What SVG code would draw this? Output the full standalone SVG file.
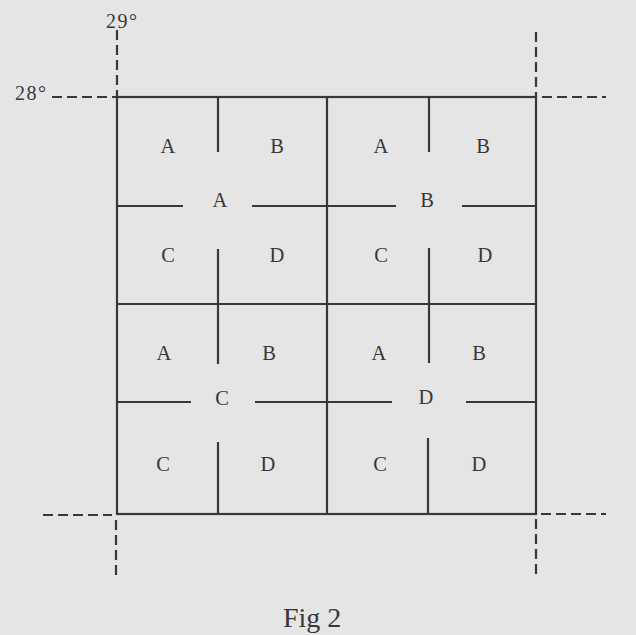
<svg xmlns="http://www.w3.org/2000/svg" width="636" height="635" viewBox="0 0 636 635">
<style>
.ln{stroke:#383838;stroke-width:2.2;fill:none;stroke-linecap:butt}
.ds{stroke:#383838;stroke-width:2.2;fill:none;stroke-dasharray:10 5}
.lb{font-family:"Liberation Serif",serif;font-size:20.5px;fill:#383838;text-anchor:middle}
.cap{font-family:"Liberation Serif",serif;font-size:20px;fill:#383838;letter-spacing:1.5px}
</style>
<rect width="636" height="635" fill="#e5e5e5"/>
<g id="connectors">
<rect class="ln" x="117" y="97" width="419" height="417"/>
<line class="ln" x1="327" y1="97" x2="327" y2="514"/>
<line class="ln" x1="117" y1="304" x2="536" y2="304"/>
<line class="ln" x1="218" y1="97" x2="218" y2="152"/>
<line class="ln" x1="429" y1="97" x2="429" y2="152"/>
<line class="ln" x1="117" y1="206" x2="183" y2="206"/>
<line class="ln" x1="252" y1="206" x2="396" y2="206"/>
<line class="ln" x1="462" y1="206" x2="536" y2="206"/>
<line class="ln" x1="218" y1="249" x2="218" y2="364"/>
<line class="ln" x1="429" y1="248" x2="429" y2="363"/>
<line class="ln" x1="117" y1="402" x2="191" y2="402"/>
<line class="ln" x1="255" y1="402" x2="392" y2="402"/>
<line class="ln" x1="466" y1="402" x2="536" y2="402"/>
<line class="ln" x1="218" y1="442" x2="218" y2="514"/>
<line class="ln" x1="428" y1="438" x2="428" y2="514"/>
<line class="ds" x1="117" y1="30" x2="117" y2="97"/>
<line class="ds" x1="52" y1="97" x2="117" y2="97"/>
<line class="ds" x1="536" y1="32" x2="536" y2="97"/>
<line class="ds" x1="542" y1="97" x2="606" y2="97"/>
<line class="ds" x1="43" y1="515" x2="112" y2="515"/>
<line class="ds" x1="116" y1="520" x2="116" y2="580"/>
<line class="ds" x1="541" y1="514" x2="606" y2="514"/>
<line class="ds" x1="536" y1="519" x2="536" y2="578"/>
</g>
<g id="coords">
<text class="cap" x="106" y="28">29°</text>
<text class="cap" x="15" y="100">28°</text>
</g>
<g id="quad-A">
<text class="lb" x="168" y="153">A</text>
<text class="lb" x="277" y="153">B</text>
<text class="lb" x="220" y="207">A</text>
<text class="lb" x="168" y="262">C</text>
<text class="lb" x="277" y="262">D</text>
</g>
<g id="quad-B">
<text class="lb" x="381" y="153">A</text>
<text class="lb" x="483" y="153">B</text>
<text class="lb" x="427" y="207">B</text>
<text class="lb" x="381" y="262">C</text>
<text class="lb" x="485" y="262">D</text>
</g>
<g id="quad-C">
<text class="lb" x="164" y="360">A</text>
<text class="lb" x="269" y="360">B</text>
<text class="lb" x="222" y="405">C</text>
<text class="lb" x="163" y="471">C</text>
<text class="lb" x="268" y="471">D</text>
</g>
<g id="quad-D">
<text class="lb" x="379" y="360">A</text>
<text class="lb" x="479" y="360">B</text>
<text class="lb" x="426" y="404">D</text>
<text class="lb" x="380" y="471">C</text>
<text class="lb" x="479" y="471">D</text>
</g>
<text x="283" y="627" font-family="Liberation Serif, serif" font-size="28" fill="#383838">Fig 2</text>
</svg>
